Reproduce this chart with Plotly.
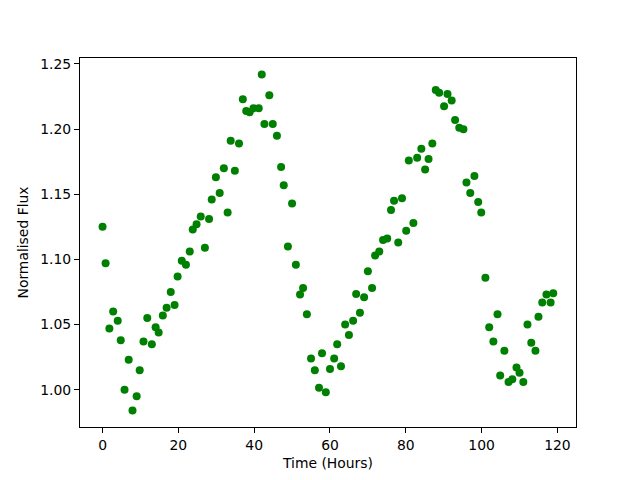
import plotly.graph_objects as go

hours = [0.0, 0.8, 1.8, 2.8, 4.0, 4.8, 5.8, 6.9, 7.9, 9.0, 9.8, 10.8, 11.8, 13.0, 14.0, 14.8,
         15.9, 16.9, 18.0, 19.0, 19.8, 20.9, 22.0, 23.0, 23.8, 24.8, 25.9, 27.0, 28.1, 28.8,
         29.9, 30.9, 32.0, 33.0, 33.8, 34.9, 36.0, 37.0, 37.9, 38.8, 39.8, 41.2, 42.0, 42.7,
         44.0, 44.9, 46.0, 47.1, 47.8, 48.9, 50.0, 51.0, 52.1, 52.9, 53.9, 55.0, 56.0, 57.1,
         57.9, 58.9, 60.0, 61.1, 61.9, 62.9, 64.0, 65.0, 66.1, 66.9, 67.9, 69.0, 70.0, 71.1,
         71.9, 73.0, 74.0, 75.1, 76.1, 76.9, 78.0, 79.0, 80.1, 80.8, 82.0, 83.0, 84.1, 85.1,
         86.0, 87.0, 87.9, 88.8, 90.1, 91.0, 92.1, 93.0, 94.1, 95.2, 96.0, 97.0, 98.1, 99.1,
         99.9, 101.0, 102.0, 103.1, 104.2, 104.9, 106.0, 107.1, 108.1, 109.2, 110.0, 111.0,
         112.1, 113.1, 114.2, 115.0, 116.0, 117.1, 118.2, 118.9]

flux = [1.125, 1.097, 1.047, 1.060, 1.053, 1.038, 1.000, 1.023, 0.984, 0.995, 1.015, 1.037,
        1.055, 1.035, 1.048, 1.044, 1.057, 1.063, 1.075, 1.065, 1.087, 1.099, 1.096, 1.106,
        1.123, 1.127, 1.133, 1.109, 1.131, 1.146, 1.163, 1.151, 1.170, 1.136, 1.191, 1.168,
        1.189, 1.223, 1.214, 1.213, 1.216, 1.216, 1.242, 1.204, 1.226, 1.204, 1.195, 1.171,
        1.157, 1.110, 1.143, 1.096, 1.073, 1.078, 1.058, 1.024, 1.015, 1.0015, 1.028, 0.998,
        1.016, 1.024, 1.035, 1.018, 1.050, 1.042, 1.053, 1.0735, 1.059, 1.071, 1.091, 1.078,
        1.103, 1.106, 1.115, 1.116, 1.138, 1.145, 1.113, 1.147, 1.122, 1.176, 1.128, 1.178,
        1.185, 1.169, 1.177, 1.189, 1.230, 1.228, 1.2175, 1.227, 1.222, 1.207, 1.201, 1.200,
        1.159, 1.151, 1.164, 1.144, 1.136, 1.086, 1.048, 1.037, 1.058, 1.011, 1.030, 1.006,
        1.008, 1.017, 1.013, 1.006, 1.050, 1.036, 1.030, 1.056, 1.067, 1.073, 1.067, 1.074]

x_ticks = [0, 20, 40, 60, 80, 100, 120]
y_ticks = [1.00, 1.05, 1.10, 1.15, 1.20, 1.25]

fig = go.Figure(go.Scatter(
    x=hours, y=flux, mode="markers",
    marker=dict(color="#008000", size=8, line=dict(width=0)),
))

font = dict(family="DejaVu Sans", size=13.9, color="black")
axis_common = dict(
    showgrid=False, zeroline=False, showline=True, linecolor="black", linewidth=1,
    mirror=True, ticks="outside", ticklen=5, tickwidth=1, tickcolor="black",
    tickfont=font,
)

# page body adds an 8px offset, compensated in the margins
fig.update_layout(
    width=640, height=480,
    margin=dict(l=72, r=72, t=50, b=61),
    paper_bgcolor="white", plot_bgcolor="white",
    showlegend=False,
    font=font,
    xaxis=dict(range=[-5.95, 124.9], tickvals=x_ticks, ticktext=[str(v) for v in x_ticks],
               title=dict(text="Time (Hours)", font=font, standoff=6), **axis_common),
    yaxis=dict(range=[0.9714, 1.2546], tickvals=y_ticks, ticktext=[f"{v:.2f}" for v in y_ticks],
               title=dict(text="Normalised Flux", font=font, standoff=8), **axis_common),
)

fig.write_html("out.html")
